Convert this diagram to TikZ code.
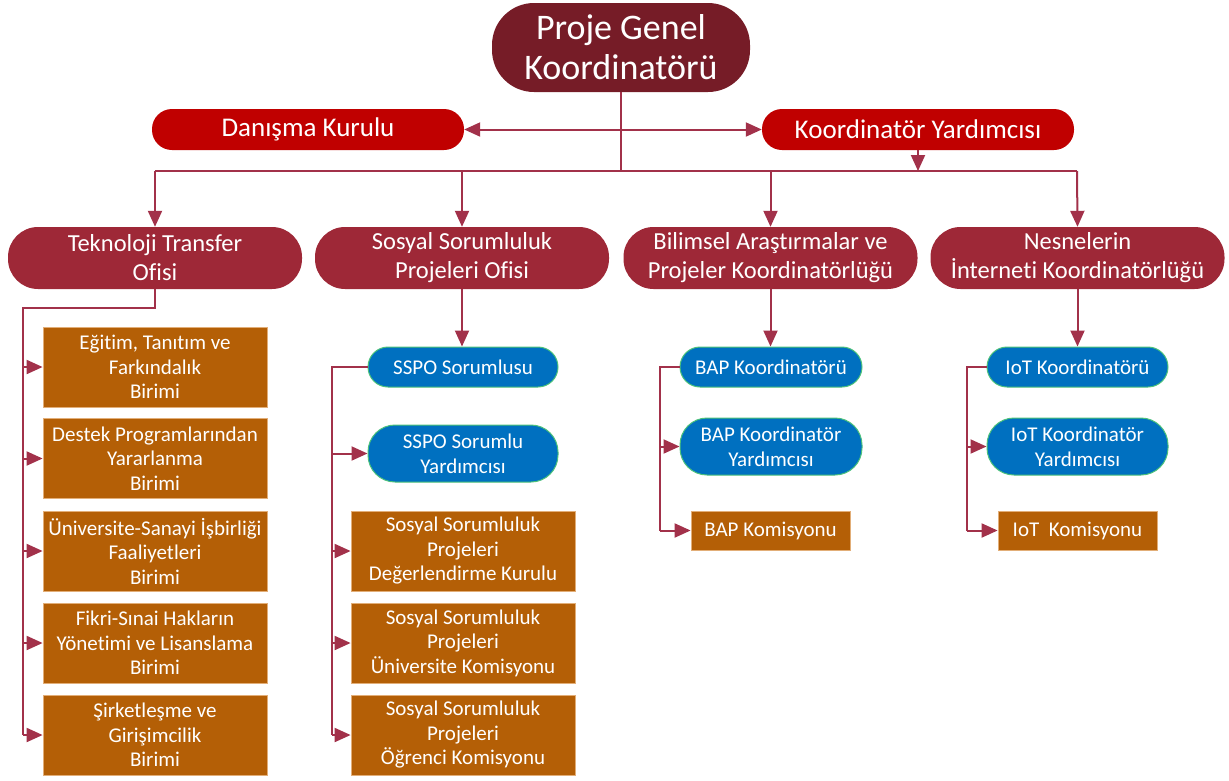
\documentclass[tikz,border=0pt]{standalone}
\usepackage{fontspec}
\setmainfont{Carlito}[Ligatures={NoCommon}]
\usetikzlibrary{arrows.meta}
\definecolor{cTitle}{HTML}{761C27}
\definecolor{cRed}{HTML}{C00000}
\definecolor{cLvl}{HTML}{9E2837}
\definecolor{cBlue}{HTML}{0070C0}
\definecolor{cGreen}{HTML}{4CC27A}
\definecolor{cOr}{HTML}{B45F06}
\definecolor{cOrB}{HTML}{E2AE78}
\definecolor{cLine}{HTML}{A2314A}
\begin{document}
\begin{tikzpicture}[x=1pt,y=-1pt,
 base/.style={text=white, align=center, inner sep=0pt},
 titlebox/.style={base, fill=cTitle, rounded corners=42pt, minimum width=258pt, minimum height=89pt, font=\fontsize{36}{40}\selectfont},
 redbox/.style={base, fill=cRed, rounded corners=20pt, minimum width=312pt, minimum height=41pt, font=\fontsize{27}{30}\selectfont},
 lvtwo/.style={base, fill=cLvl, rounded corners=30pt, minimum width=294pt, minimum height=62pt, font=\fontsize{24.5}{29}\selectfont},
 bluebox/.style={base, fill=cBlue, draw=cGreen, line width=1pt, rounded corners=20pt, minimum height=40pt, font=\fontsize{21}{25}\selectfont},
 bluetall/.style={bluebox, rounded corners=27pt, minimum height=57pt},
 orbox/.style={base, fill=cOr, draw=cOrB, line width=0.8pt, minimum width=224pt, minimum height=80pt, font=\fontsize{21}{24.5}\selectfont},
 orsmall/.style={orbox, minimum width=159pt, minimum height=39pt},
 conn/.style={draw=cLine, line width=2pt},
 arr/.style={conn, -{Triangle[length=16pt,width=14pt]}},
 darr/.style={conn, {Triangle[length=16pt,width=14pt]}-{Triangle[length=16pt,width=14pt]}},
]
\useasboundingbox (0,0) rectangle (1229,780);

% level 1
\node[titlebox] (title) at (621,47.5) {Proje Genel\\Koordinatörü};
\node[redbox] (dan) at (308,129.5) {Danışma Kurulu};
\node[redbox] (ky) at (918,129.5) {Koordinatör Yardımcısı};

% level 2
\node[lvtwo] (tto) at (155,258) {Teknoloji Transfer\\Ofisi};
\node[lvtwo] (ssp) at (462,258) {Sosyal Sorumluluk\\Projeleri Ofisi};
\node[lvtwo] (bil) at (770.5,258) {Bilimsel Araştırmalar ve\\Projeler Koordinatörlüğü};
\node[lvtwo] (nes) at (1077.5,258) {Nesnelerin\\İnterneti Koordinatörlüğü};

% TTO units
\node[orbox] (t1) at (155,367) {Eğitim, Tanıtım ve\\Farkındalık\\Birimi};
\node[orbox] (t2) at (155,458.5) {Destek Programlarından\\Yararlanma\\Birimi};
\node[orbox] (t3) at (155,551) {Üniversite-Sanayi İşbirliği\\Faaliyetleri\\Birimi};
\node[orbox] (t4) at (155,643) {Fikri-Sınai Hakların\\Yönetimi ve Lisanslama\\Birimi};
\node[orbox] (t5) at (155,735) {Şirketleşme ve\\Girişimcilik\\Birimi};

% SSPO
\node[bluebox, minimum width=190pt] (s1) at (463,367) {SSPO Sorumlusu};
\node[bluetall, minimum width=190pt] (s2) at (463,453.5) {SSPO Sorumlu\\Yardımcısı};
\node[orbox] (s3) at (463,551) {Sosyal Sorumluluk\\Projeleri\\Değerlendirme Kurulu};
\node[orbox] (s4) at (463,643) {Sosyal Sorumluluk\\Projeleri\\Üniversite Komisyonu};
\node[orbox] (s5) at (463,735) {Sosyal Sorumluluk\\Projeleri\\Öğrenci Komisyonu};

% BAP
\node[bluebox, minimum width=182pt] (b1) at (771,367) {BAP Koordinatörü};
\node[bluetall, minimum width=182pt] (b2) at (771,446.5) {BAP Koordinatör\\Yardımcısı};
\node[orsmall] (b3) at (770.5,530.5) {BAP Komisyonu};

% IoT
\node[bluebox, minimum width=181pt] (i1) at (1077.5,367) {IoT Koordinatörü};
\node[bluetall, minimum width=181pt] (i2) at (1077.5,446.5) {IoT Koordinatör\\Yardımcısı};
\node[orsmall] (i3) at (1077.5,530.5) {IoT\ \ Komisyonu};

% connectors top
\coordinate (busL) at (155,171);
\coordinate (busR) at (1077,171);
\draw[conn] (title.south) -- (title.south |- busL);
\draw[conn] (busL) -- (busR);
\draw[darr] (dan.east) -- (ky.west);
\draw[arr] (ky.south) -- (ky.south |- busL);
\draw[arr] (busL) -- (tto.north);
\draw[arr] (ssp.north |- busL) -- (ssp.north);
\draw[arr] (bil.north |- busL) -- (bil.north);
\draw[arr] (busR) -- (nes.north);

% TTO tree
\coordinate (tl) at (23,308);
\draw[conn] (tto.south) |- (tl) -- (tl |- t5.west);
\foreach \n in {t1,t2,t3,t4,t5} \draw[arr] (tl |- \n.west) -- (\n.west);

% SSPO tree
\draw[arr] (ssp.south) -- (ssp.south |- s1.north);
\coordinate (sl) at (332,367);
\draw[conn] (s1.west) -- (sl) -- (sl |- s5.west);
\foreach \n in {s2,s3,s4,s5} \draw[arr] (sl |- \n.west) -- (\n.west);

% BAP tree
\draw[arr] (bil.south) -- (bil.south |- b1.north);
\coordinate (bl) at (660,367);
\draw[conn] (b1.west) -- (bl) -- (bl |- b3.west);
\foreach \n in {b2,b3} \draw[arr] (bl |- \n.west) -- (\n.west);

% IoT tree
\draw[arr] (nes.south) -- (nes.south |- i1.north);
\coordinate (il) at (967,367);
\draw[conn] (i1.west) -- (il) -- (il |- i3.west);
\foreach \n in {i2,i3} \draw[arr] (il |- \n.west) -- (\n.west);
\end{tikzpicture}
\end{document}
